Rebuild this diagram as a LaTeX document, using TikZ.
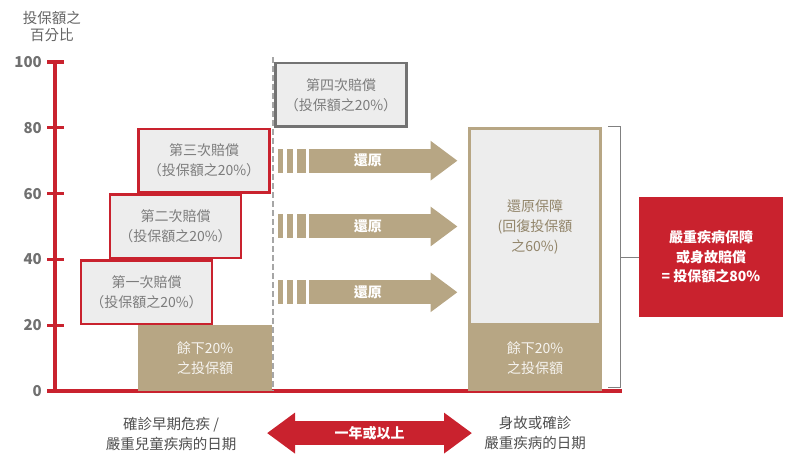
\documentclass[tikz,border=0pt]{standalone}
\usepackage{fontspec}
\setmainfont{Noto Sans CJK TC}
\usepackage{tikz}
\usetikzlibrary{shapes,arrows.meta}
\definecolor{cired}{HTML}{C9222E}
\definecolor{sand}{HTML}{B7A684}
\definecolor{boxgray}{HTML}{EDEDED}
\definecolor{textgray}{HTML}{7C7C7C}
\definecolor{labelgray}{HTML}{4F4F4F}
\tikzstyle{claim} = [rectangle, draw=cired, line width=2.5pt, fill=boxgray, text=textgray,
    align=center, minimum width=131pt, minimum height=63.5pt, font=\fontsize{14pt}{20pt}\selectfont]
\tikzstyle{remain} = [rectangle, fill=sand, text=white!88!sand, align=center,
    minimum width=134pt, minimum height=65.8pt, font=\fontsize{14pt}{20pt}\selectfont]
\tikzstyle{restorebox} = [rectangle, draw=sand, line width=3pt, fill=boxgray, text=sand!80!black,
    align=center, minimum width=131pt, minimum height=196pt, font=\fontsize{14pt}{20pt}\selectfont]
\tikzstyle{summary} = [rectangle, fill=cired, text=white, align=center,
    minimum width=144pt, minimum height=120pt, font=\fontsize{14pt}{19.5pt}\selectfont\bfseries]
\tikzstyle{axis} = [draw=cired, line width=3.3pt]
\tikzstyle{back} = [draw=sand, line width=24pt, -{Triangle[length=27pt,width=38pt]}]
\tikzstyle{stripes} = [draw=sand, line width=24pt, dash pattern=on 5pt off 4pt on 6pt off 4pt on 9pt off 3pt]
\tikzstyle{backtext} = [text=white, font=\fontsize{14pt}{16pt}\selectfont\bfseries]
\tikzstyle{span} = [draw=cired, line width=24pt,
    {Triangle[length=28pt,width=39pt]}-{Triangle[length=28pt,width=39pt]}]
\tikzstyle{datelabel} = [text=labelgray, align=center, font=\fontsize{14.5pt}{19.5pt}\selectfont]
\tikzstyle{bracket} = [draw=gray, line width=1pt]

\begin{document}
\begin{tikzpicture}[x=1pt, y=3.29pt]
    \useasboundingbox (0,-22.49) rectangle (793,118.84);
    % Axis
    \node [text=textgray!80!black, align=center, font=\fontsize{14.5pt}{17pt}\selectfont] at (52,110.8) (ylabel) {投保額之\\百分比};
    \draw [axis] (55,100) -- (55,0) -- (622,0);
    \foreach \v in {0,20,...,100} {
        \draw [axis] (47,\v) -- (64,\v);
        \node [anchor=east, inner sep=0pt, text=textgray!90!black, font=\fontsize{15pt}{15pt}\selectfont\bfseries] at (42,\v) (tick\v) {\v};
    }
    \draw [gray!70, line width=1.2pt, dash pattern=on 6pt off 3pt] (273,101.5) -- (273,0);
    % Place nodes
    \node [remain] at (205,10) (remainL) {餘下20\%\\之投保額};
    \node [claim] at (146.5,30) (claim1) {第一次賠償\\（投保額之20\%）};
    \node [claim] at (175.5,50) (claim2) {第二次賠償\\（投保額之20\%）};
    \node [claim] at (204,70) (claim3) {第三次賠償\\（投保額之20\%）};
    \node [claim, draw=gray!110] at (341,90) (claim4) {第四次賠償\\（投保額之20\%）};
    \node [restorebox] at (535,50) (restore) {還原保障\\(回復投保額\\之60\%)};
    \node [remain] at (535,10) (remainR) {餘下20\%\\之投保額};
    \node [summary] at (711,40.7) (total) {嚴重疾病保障\\或身故賠償\\= 投保額之80\%};
    \node [datelabel] at (171,-13.1) (startdate) {確診早期危疾 /\\嚴重兒童疾病的日期};
    \node [datelabel] at (535,-12.8) (enddate) {身故或確診\\嚴重疾病的日期};
    % Draw edges
    \foreach \y [count=\i] in {70,50,30} {
        \draw [stripes] (278,\y) -- (306,\y);
        \coordinate (b\i) at (309,\y);
        \draw [back, shorten >=10.5pt] (b\i) -- (b\i -| restore.west) node[pos=0.37, backtext] {還原};
    }
    \coordinate (bt) at (608,80.5);
    \coordinate (bb) at (608,1);
    \coordinate (bend) at (620,40.7);
    \draw [bracket] (bt) -- (bt -| bend) -- (bb -| bend) -- (bb);
    \draw [bracket] (total.west) -- (bend);
    \coordinate (yearL) at (267,-12.8);
    \coordinate (yearR) at (472,-12.8);
    \draw [span] (yearL) -- (yearR) node[midway, text=white, font=\fontsize{14pt}{16pt}\selectfont\bfseries] {一年或以上};
\end{tikzpicture}
\end{document}
